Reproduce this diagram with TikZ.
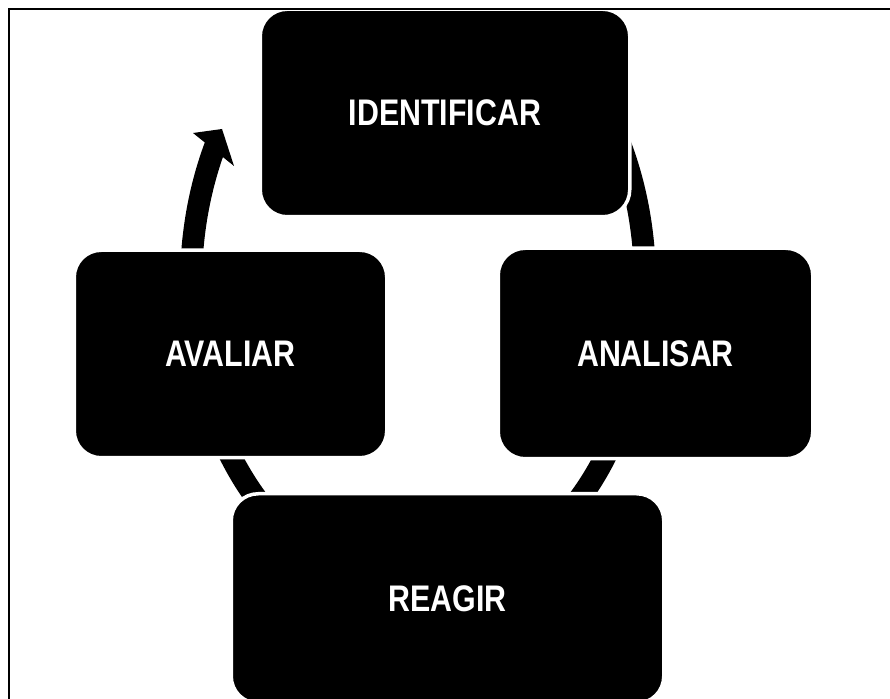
\documentclass[tikz,border=0pt]{standalone}
\usepackage{fontspec}
\newfontfamily\labelfont[FakeStretch=0.82]{Liberation Sans}
\begin{document}
\begin{tikzpicture}[x=1pt,y=1pt,
  stagebox/.style={fill=black, draw=white, line width=3.5pt,
    rounded corners=27pt, inner sep=0pt, text=white,
    font=\labelfont\bfseries\fontsize{37}{40}\selectfont},
  cyclearc/.style={draw=black, line width=22pt}]
\useasboundingbox (0,0) rectangle (890,698);
\fill[white] (0,0) rectangle (890,698);

% cycle arrow: elliptic arc behind the stages, one arrowhead
\coordinate (c) at (418,414.5);
\draw[cyclearc] (c) ++(40:227 and 306)
  arc[start angle=40, end angle=-207, x radius=227, y radius=306];
\coordinate (tip) at (222,569);
\coordinate (wingl) at (193,565);
\coordinate (wingr) at (234,532);
\fill (tip) -- (wingl) -- (wingr) -- cycle;

% stages
\node[stagebox, minimum width=369.5pt, minimum height=207.5pt] (identificar) at (445,585) {IDENTIFICAR};
\node[stagebox, minimum width=314.5pt, minimum height=210.5pt] (analisar) at (655.5,344.5) {ANALISAR};
\node[stagebox, minimum width=312.5pt, minimum height=207.5pt] (avaliar) at (230.5,344) {AVALIAR};
\node[stagebox, minimum width=432.5pt, minimum height=209.5pt] (reagir) at (447.5,99.5) {REAGIR};

% frame (top and left edges)
\draw[line width=2pt] (9,-5) -- (9,689) -- (895,689);
\end{tikzpicture}
\end{document}
